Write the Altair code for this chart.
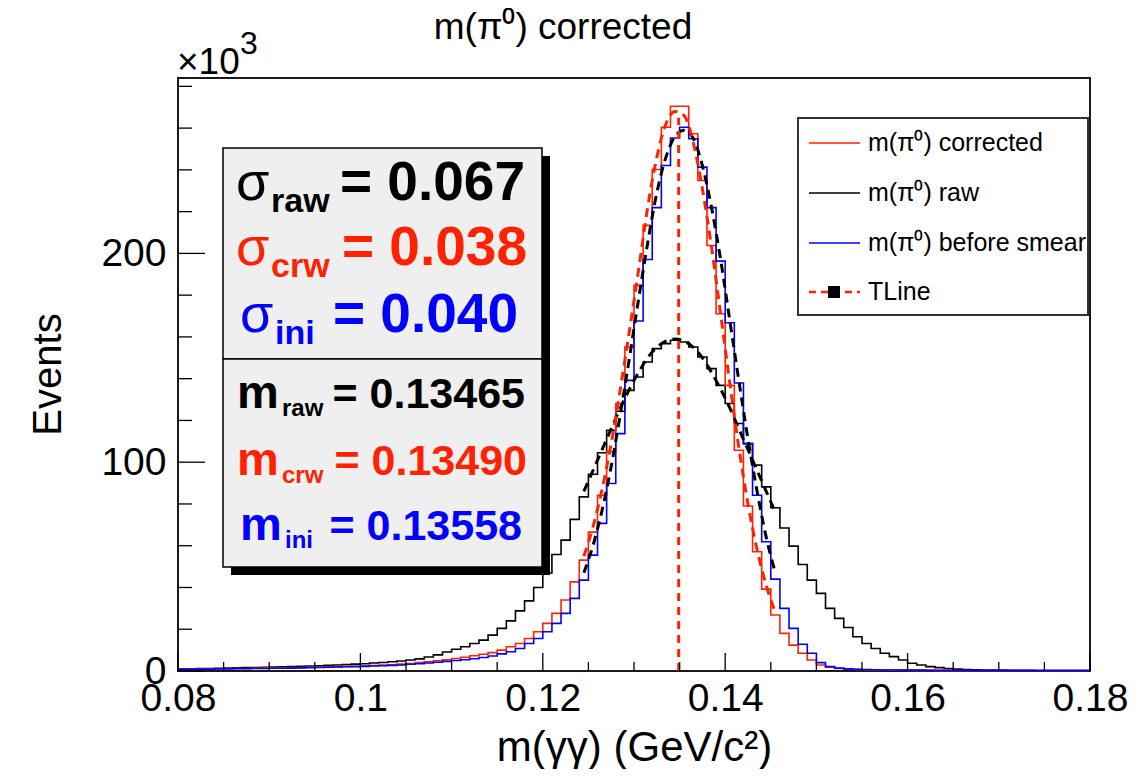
import altair as alt
import pandas as pd

FONT = "Liberation Sans"
RED = "#ff2200"
BLUE = "#0000ff"
BLACK = "#000000"

# ---------------- data ----------------
bin_left_edges = [
    0.080, 0.081, 0.082, 0.083, 0.084, 0.085, 0.086, 0.087, 0.088, 0.089,
    0.090, 0.091, 0.092, 0.093, 0.094, 0.095, 0.096, 0.097, 0.098, 0.099,
    0.100, 0.101, 0.102, 0.103, 0.104, 0.105, 0.106, 0.107, 0.108, 0.109,
    0.110, 0.111, 0.112, 0.113, 0.114, 0.115, 0.116, 0.117, 0.118, 0.119,
    0.120, 0.121, 0.122, 0.123, 0.124, 0.125, 0.126, 0.127, 0.128, 0.129,
    0.130, 0.131, 0.132, 0.133, 0.134, 0.135, 0.136, 0.137, 0.138, 0.139,
    0.140, 0.141, 0.142, 0.143, 0.144, 0.145, 0.146, 0.147, 0.148, 0.149,
    0.150, 0.151, 0.152, 0.153, 0.154, 0.155, 0.156, 0.157, 0.158, 0.159,
    0.160, 0.161, 0.162, 0.163, 0.164, 0.165, 0.166, 0.167, 0.168, 0.169,
    0.170, 0.171, 0.172, 0.173, 0.174, 0.175, 0.176, 0.177, 0.178, 0.179,
]
last_edge = 0.180

# events (x10^3) per bin
raw_counts = [
    1.0, 1.1, 1.2, 1.2, 1.3, 1.4, 1.5, 1.6, 1.7, 1.8,
    1.9, 2.0, 2.1, 2.3, 2.4, 2.5, 2.7, 2.9, 3.1, 3.3,
    3.5, 3.8, 4.1, 4.4, 4.8, 5.3, 5.8, 6.7, 7.7, 9.1,
    10.4, 11.6, 13.2, 14.8, 17.2, 20.4, 24.0, 28.8, 33.6, 40.0,
    46.9, 55.8, 62.7, 72.6, 83.4, 94.2, 104.5, 115.3, 124.4, 134.4,
    140.8, 148.0, 154.4, 156.8, 158.4, 157.6, 155.2, 150.4, 144.8, 136.8,
    128.1, 118.5, 108.9, 98.6, 88.2, 78.2, 68.5, 59.8, 51.0, 43.5,
    37.2, 30.0, 25.2, 20.8, 16.4, 13.2, 10.8, 8.5, 6.9, 5.3,
    3.7, 2.9, 2.1, 1.6, 1.2, 0.9, 0.7, 0.6, 0.5, 0.4,
    0.4, 0.3, 0.3, 0.3, 0.2, 0.2, 0.2, 0.2, 0.2, 0.2,
]
corrected_counts = [
    0.9, 0.9, 1.0, 1.0, 1.1, 1.1, 1.2, 1.2, 1.3, 1.4,
    1.4, 1.5, 1.6, 1.7, 1.8, 1.9, 2.0, 2.1, 2.2, 2.3,
    2.4, 2.6, 2.8, 3.0, 3.3, 3.6, 4.0, 4.4, 4.9, 5.4,
    6.0, 6.6, 7.3, 8.0, 8.8, 10.0, 11.6, 13.2, 15.6, 18.8,
    22.8, 27.6, 34.0, 42.7, 53.1, 66.5, 84.2, 105.0, 128.1, 155.2,
    184.7, 213.4, 240.2, 260.4, 270.5, 270.5, 257.3, 234.9, 203.8, 171.1,
    136.8, 105.7, 79.0, 57.1, 39.2, 26.8, 18.0, 12.4, 8.5, 5.3,
    2.9, 1.8, 1.2, 0.9, 0.7, 0.6, 0.5, 0.5, 0.4, 0.4,
    0.3, 0.3, 0.3, 0.2, 0.2, 0.2, 0.2, 0.2, 0.2, 0.2,
    0.2, 0.2, 0.2, 0.2, 0.2, 0.2, 0.2, 0.2, 0.2, 0.2,
]
before_smear_counts = [
    0.8, 0.8, 0.9, 0.9, 1.0, 1.0, 1.1, 1.1, 1.2, 1.2,
    1.3, 1.3, 1.4, 1.5, 1.6, 1.7, 1.8, 1.9, 2.0, 2.1,
    2.2, 2.4, 2.5, 2.7, 2.9, 3.2, 3.5, 3.8, 4.2, 4.6,
    5.0, 5.4, 5.9, 6.5, 7.2, 8.2, 9.2, 10.8, 13.2, 15.6,
    18.8, 22.8, 27.6, 34.8, 43.5, 55.5, 70.7, 89.8, 113.7, 139.2,
    167.6, 197.1, 221.9, 242.1, 255.3, 260.4, 254.9, 241.3, 221.9, 196.3,
    166.8, 137.9, 108.9, 84.2, 61.9, 44.0, 30.0, 20.4, 12.8, 8.5,
    4.0, 2.1, 1.4, 1.0, 0.8, 0.7, 0.6, 0.5, 0.5, 0.4,
    0.4, 0.4, 0.3, 0.3, 0.3, 0.3, 0.3, 0.2, 0.2, 0.2,
    0.2, 0.2, 0.2, 0.2, 0.2, 0.2, 0.2, 0.2, 0.2, 0.2,
]

# fitted curves (dashed)
fit_x = [0.1245, 0.1255, 0.1265, 0.1275, 0.1285, 0.1295, 0.1305, 0.1315,
         0.1325, 0.1335, 0.1345, 0.1355, 0.1365, 0.1375, 0.1385, 0.1395,
         0.1405, 0.1415, 0.1425, 0.1435, 0.1445, 0.1455]
fit_corrected = [55, 69, 87, 109, 135, 163, 192, 222, 246, 262, 268,
                 266, 253, 231, 203, 171, 138, 107, 80, 58, 41, 28]
fit_before_smear = [47, 60, 77, 98, 123, 150, 178, 205, 229, 246, 256,
                    259, 255, 242, 222, 197, 168, 139, 111, 86, 64, 47]
fit_raw = [86, 96, 106, 116, 126, 135, 143, 150, 155, 158, 159,
           158, 155, 150, 143, 135, 126, 116, 106, 96, 86, 76]

# TLine at corrected mean
tline_x = [0.1349]
tline_y0 = [0]
tline_y1 = [265]

# axis ticks
x_major = [0.08, 0.10, 0.12, 0.14, 0.16, 0.18]
x_minor = [0.085, 0.09, 0.095, 0.105, 0.11, 0.115, 0.125, 0.13, 0.135,
           0.145, 0.15, 0.155, 0.165, 0.17, 0.175]
y_major = [0, 100, 200]
y_minor = [20, 40, 60, 80, 120, 140, 160, 180, 220, 240, 260, 280]

legend_labels = ["m(π⁰) corrected", "m(π⁰) raw", "m(π⁰) before smear", "TLine"]

W, H = 912, 593
xscale = alt.Scale(domain=[0.08, 0.18], nice=False, zero=False)
yscale = alt.Scale(domain=[0, 284], nice=False, zero=True)

xaxis = alt.Axis(values=x_major, format="~g", ticks=False, domain=False, grid=False,
                 labelFont=FONT, labelFontSize=39, labelColor="black", labelPadding=8,
                 labelFlush=False, labelOverlap=False,
                 title="m(γγ) (GeV/c²)", titleFont=FONT, titleFontSize=42,
                 titleFontWeight="normal", titleColor="black", titleY=89,
                 titleBaseline="alphabetic")
yaxis = alt.Axis(values=y_major, ticks=False, domain=False, grid=False,
                 labelFont=FONT, labelFontSize=39, labelColor="black", labelPadding=12,
                 labelFlush=False, labelOverlap=False,
                 title="Events", titleFont=FONT, titleFontSize=40,
                 titleFontWeight="normal", titleColor="black", titleX=-118, titleY=296,
                 titleAngle=270, titleAlign="center", titleBaseline="alphabetic")

one = pd.DataFrame({"k": [0]})


def X(field):
    return alt.X(field, type="quantitative", scale=xscale, axis=xaxis)


def Y(field):
    return alt.Y(field, type="quantitative", scale=yscale, axis=yaxis)


def hist_layer(vals, color):
    df = pd.DataFrame({"x": bin_left_edges + [last_edge], "y": vals + [vals[-1]]})
    return alt.Chart(df).mark_line(interpolate="step-after", color=color,
                                   strokeWidth=1.6).encode(x=X("x"), y=Y("y"))


def fit_layer(vals, color):
    df = pd.DataFrame({"x": fit_x, "y": vals})
    return alt.Chart(df).mark_line(interpolate="monotone", color=color, strokeWidth=3,
                                   strokeDash=[9, 6]).encode(x=X("x"), y=Y("y"))


def ytick_layer(vals, length):
    return alt.Chart(pd.DataFrame({"y": vals})).mark_rule(color="black", strokeWidth=1.3).encode(
        y=Y("y"), x=alt.value(0), x2=alt.value(length))


def xtick_layer(vals, length):
    return alt.Chart(pd.DataFrame({"x": vals})).mark_rule(color="black", strokeWidth=1.3).encode(
        x=X("x"), y=alt.value(H), y2=alt.value(H - length))


def rect(x0, y0, x1, y1, fill, stroke=None, sw=0):
    kw = dict(fill=fill)
    if stroke:
        kw.update(stroke=stroke, strokeWidth=sw)
    return alt.Chart(one).mark_rect(**kw).encode(
        x=alt.value(x0), x2=alt.value(x1), y=alt.value(y0), y2=alt.value(y1))


def txt(s, x, y, size, color="black", weight="normal", align="left", baseline="alphabetic",
        font=FONT):
    return alt.Chart(one).mark_text(text=s, font=font, fontSize=size, fontWeight=weight,
                                    color=color, align=align, baseline=baseline).encode(
        x=alt.value(x), y=alt.value(y))


def hline(x0, x1, y, color, width=1.6, dash=None):
    kw = dict(color=color, strokeWidth=width)
    if dash:
        kw["strokeDash"] = dash
    return alt.Chart(one).mark_rule(**kw).encode(x=alt.value(x0), x2=alt.value(x1), y=alt.value(y))


layers = [
    hist_layer(raw_counts, BLACK),
    hist_layer(corrected_counts, RED),
    hist_layer(before_smear_counts, BLUE),
    fit_layer(fit_raw, BLACK),
    fit_layer(fit_before_smear, BLACK),
    fit_layer(fit_corrected, RED),
    alt.Chart(pd.DataFrame({"x": tline_x, "y": tline_y0, "y1": tline_y1})).mark_rule(
        color=RED, strokeWidth=3, strokeDash=[8, 6]).encode(
        x=X("x"), y=Y("y"), y2="y1:Q"),
    ytick_layer(y_major, 27),
    ytick_layer(y_minor, 14),
    xtick_layer(x_major, 18),
    xtick_layer(x_minor, 9),
]

# stats boxes (shadow + box)
bx0, bx1 = 45, 364
layers += [
    rect(bx0 + 8, 70 + 8, bx1 + 8, 281 + 8, "black"),
    rect(bx0, 70, bx1, 281, "#efefef", "black", 1.5),
    rect(bx0 + 8, 281 + 8, bx1 + 8, 489 + 8, "black"),
    rect(bx0, 281, bx1, 489, "#efefef", "black", 1.5),
]
stat_lines = [
    ("σ", "raw", "= 0.067", BLACK, 122, 347, 58),
    ("σ", "crw", "= 0.038", RED, 187, 349, 58),
    ("σ", "ini", "= 0.040", BLUE, 254, 340, 62),
]
for sym, sub, val, col, base, right, sx in stat_lines:
    layers.append(txt(sym, sx, base, 54, col))
    layers.append(txt(sub, sx + 35, base + 12, 34, col, "bold"))
    layers.append(txt(val, right, base, 55, col, "bold", align="right"))
m_lines = [
    ("m", "raw", "= 0.13465", BLACK, 330, 347, 59),
    ("m", "crw", "= 0.13490", RED, 397, 349, 59),
    ("m", "ini", "= 0.13558", BLUE, 462, 344, 62),
]
for sym, sub, val, col, base, right, sx in m_lines:
    layers.append(txt(sym, sx, base, 47, col, "bold"))
    layers.append(txt(sub, sx + 45, base + 8, 24, col, "bold"))
    layers.append(txt(val, right, base, 43, col, "bold", align="right"))

# legend
layers += [
    rect(620, 40, 910, 237, "white", "#333333", 2),
    hline(631, 682, 65, RED),
    hline(631, 682, 115, BLACK),
    hline(631, 682, 165, BLUE),
    hline(631, 682, 214, RED, 2.5, [7, 5]),
    alt.Chart(one).mark_square(size=144, color="black", opacity=1, filled=True).encode(
        x=alt.value(656), y=alt.value(214)),
]
for i, lab in enumerate(legend_labels):
    layers.append(txt(lab, 690, [65, 115, 165, 214][i], 25, baseline="middle"))

# title and exponent
layers += [
    txt("m(π⁰) corrected", 385, -39, 37, align="center"),
    txt("×10", -1, -4, 37),
    txt("3", 62, -24, 32),
]

chart = alt.layer(*layers).properties(
    width=W, height=H,
    padding={"left": 170, "top": 70, "right": 40, "bottom": 98},
    autosize="none",
).configure_view(stroke="#1a1a1a", strokeWidth=2)

chart.save("out.html", embed_options={"renderer": "svg", "actions": False})
